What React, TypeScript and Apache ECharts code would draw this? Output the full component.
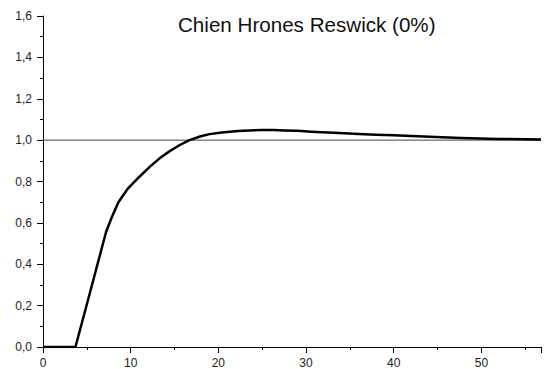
import React, { useEffect, useRef } from "react";
import * as echarts from "echarts";

const titleText = "Chien Hrones Reswick (0%)";
const timeValues = [0, 3.7, 5.3, 7.2, 7.8, 8.6, 9.7, 11.0, 12.2, 13.3, 14.5, 15.5, 16.7, 18.0, 19.0, 20.4, 21.3, 22.3, 23.5, 25.0, 26.3, 27.5, 29.0, 30.6, 32.5, 34.4, 36.0, 38.0, 40.0, 42.0, 44.8, 47.7, 52.0, 56.8];
const responseValues = [0, 0, 0.254, 0.557, 0.622, 0.70, 0.767, 0.823, 0.872, 0.912, 0.948, 0.974, 1.0, 1.019, 1.029, 1.037, 1.041, 1.044, 1.047, 1.049, 1.049, 1.047, 1.045, 1.041, 1.037, 1.033, 1.030, 1.026, 1.023, 1.02, 1.015, 1.01, 1.006, 1.003];
const referenceX = [0, 56.8];
const referenceY = [1.0, 1.0];
const yTicks = { min: 0, max: 1.6, interval: 0.2 };
const xTicks = { min: 0, max: 56.8, interval: 10 };

export default function App() {
  const ref = useRef<HTMLDivElement>(null);
  useEffect(() => {
    const chart = echarts.init(ref.current!, undefined, { renderer: "svg" });
    const font = "'Liberation Sans', Arial, sans-serif";
    chart.setOption({
      animation: false,
      backgroundColor: "#ffffff",
      title: {
        text: titleText,
        left: 173,
        top: 9,
        textStyle: { fontFamily: font, fontSize: 20.6, fontWeight: "normal", color: "#111" },
      },
      grid: { left: 43, top: 16, right: 0, bottom: 22 },
      xAxis: {
        type: "value",
        min: xTicks.min,
        max: xTicks.max,
        interval: xTicks.interval,
        axisLine: { show: true, lineStyle: { color: "#000", width: 1 } },
        axisTick: { show: true, length: 6, lineStyle: { color: "#000" } },
        minorTick: { show: true, splitNumber: 2, length: 3, lineStyle: { color: "#000" } },
        splitLine: { show: false },
        axisLabel: {
          fontFamily: font,
          fontSize: 12,
          color: "#222",
          margin: 10,
          formatter: (v: number) => (Math.abs(v % 10) < 1e-6 ? String(Math.round(v)) : ""),
        },
      },
      yAxis: {
        type: "value",
        min: yTicks.min,
        max: yTicks.max,
        interval: yTicks.interval,
        axisLine: { show: true, lineStyle: { color: "#000", width: 1 } },
        axisTick: { show: true, length: 6, lineStyle: { color: "#000" } },
        minorTick: { show: true, splitNumber: 2, length: 3, lineStyle: { color: "#000" } },
        splitLine: { show: false },
        axisLabel: {
          fontFamily: font,
          fontSize: 12,
          color: "#222",
          margin: 11,
          formatter: (v: number) => v.toFixed(1).replace(".", ","),
        },
      },
      series: [
        {
          type: "line",
          data: referenceX.map((x, i) => [x, referenceY[i]]),
          showSymbol: false,
          lineStyle: { color: "#444", width: 1 },
          z: 1,
        },
        {
          type: "line",
          data: timeValues.map((x, i) => [x, responseValues[i]]),
          showSymbol: false,
          smooth: false,
          lineStyle: { color: "#000", width: 2.5, join: "round" },
          z: 2,
        },
      ],
    });
    return () => chart.dispose();
  }, []);
  return <div ref={ref} style={{ width: 544, height: 369, position: "absolute", left: 0, top: 0 }} />;
}
